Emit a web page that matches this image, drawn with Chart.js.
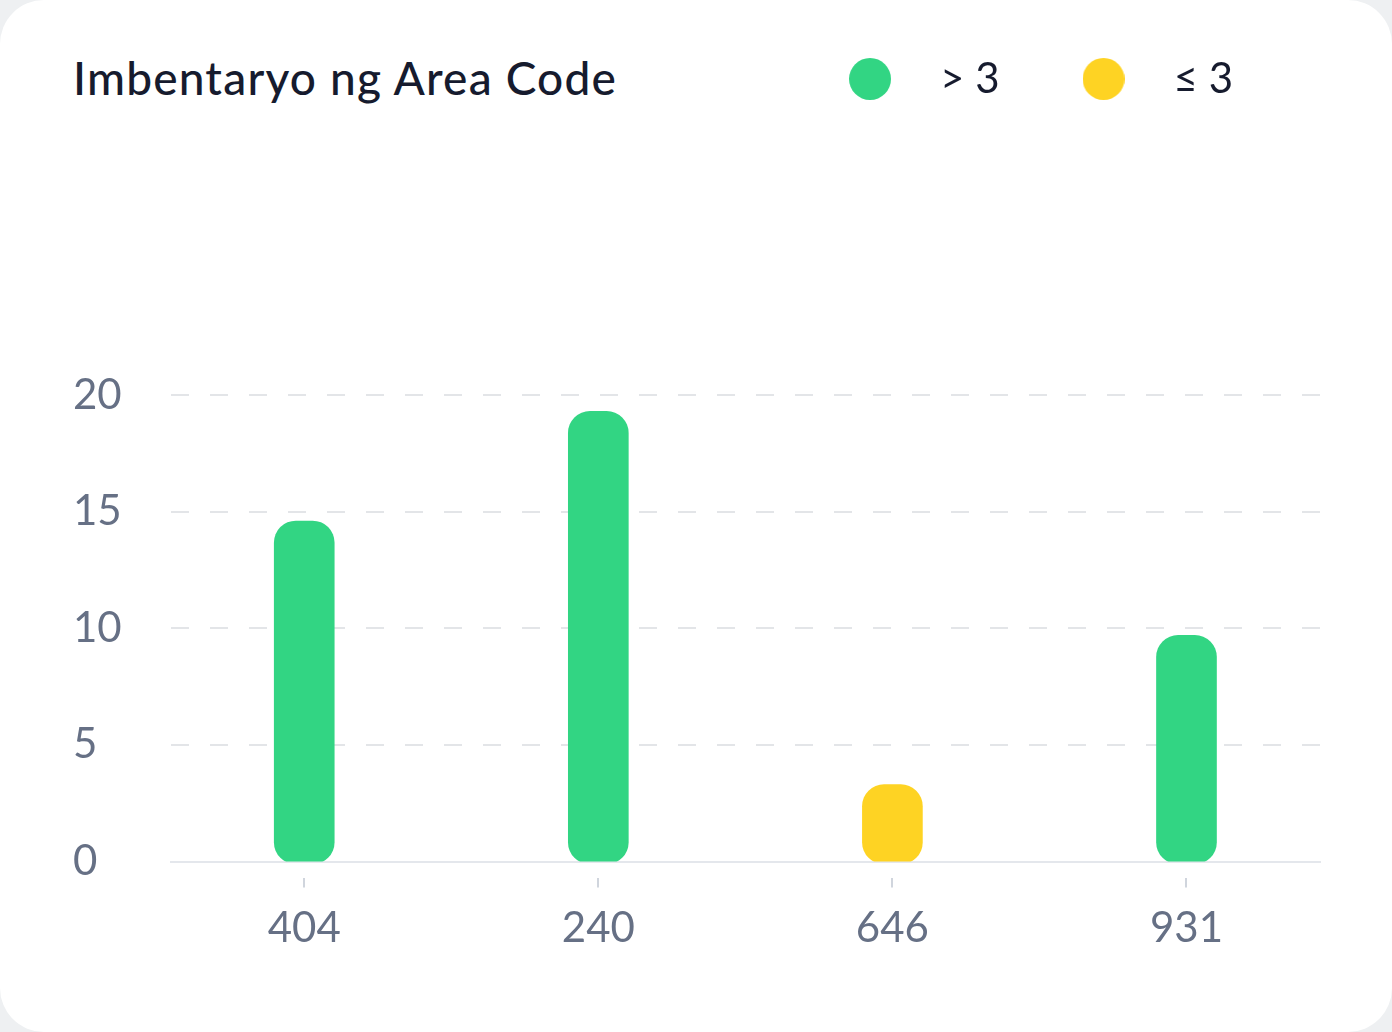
<!DOCTYPE html>
<html>
<head>
<meta charset="utf-8">
<script src="https://cdn.jsdelivr.net/npm/chart.js@4"></script>
<style>
  html, body { margin: 0; padding: 0; }
  body { width: 1392px; height: 1032px; background: #eef0f2; overflow: hidden; font-family: "Lato", sans-serif; }
  .card { position: absolute; left: 0; top: 0; width: 1392px; height: 1032px; background: #fff; border-radius: 44px; }
  .card h1 { position: absolute; left: 73px; top: 50px; margin: 0; font-size: 46px; font-weight: 500; letter-spacing: 1.2px; color: #161b2e; line-height: 56px; }
  .wrap { position: absolute; left: 0; top: 0; width: 1392px; height: 1032px; }
</style>
</head>
<body>
<div class="card">
  <h1>Imbentaryo ng Area Code</h1>
  <div class="wrap"><canvas id="chart"></canvas></div>
</div>
<script>
const areaCodes = ["404", "240", "646", "931"];
const counts = [14.6, 19.3, 3.3, 9.7];
const tiers = ["> 3", "> 3", "\u2264 3", "> 3"];
const tierNames = ["> 3", "\u2264 3"];
const yTicks = [0, 5, 10, 15, 20];

const tierColors = ["#32d583", "#fed323"];
const tickColor = "#667085";

function tierPoints(name) {
  const points = [];
  counts.forEach((value, index) => {
    if (tiers[index] === name) points.push({ x: index, y: value });
  });
  return points;
}

function dot(color) {
  const c = document.createElement("canvas");
  c.width = 42;
  c.height = 42;
  const g = c.getContext("2d");
  g.fillStyle = color;
  g.beginPath();
  g.arc(21, 21, 21, 0, Math.PI * 2);
  g.fill();
  return c;
}

// stretch the legend box so the plot starts lower down,
// and pull its right edge in so the items sit where the card has them
const legendGap = {
  id: "legendGap",
  beforeInit(chart) {
    const originalFit = chart.legend.fit;
    chart.legend.fit = function fit() {
      originalFit.bind(chart.legend)();
      this.height += 285;
    };
  },
  afterLayout(chart) {
    chart.legend.right = 1288;
  }
};

new Chart(document.getElementById("chart"), {
  type: "bar",
  data: {
    datasets: tierNames.map((name, i) => ({
      label: name,
      data: tierPoints(name),
      backgroundColor: tierColors[i],
      borderRadius: 22,
      borderSkipped: false,
      barThickness: 60,
      base: -0.1,
      grouped: false
    }))
  },
  options: {
    responsive: true,
    maintainAspectRatio: false,
    animation: false,
    layout: {
      padding: { left: 73, right: 72, top: 3, bottom: 62 }
    },
    plugins: {
      legend: {
        position: "top",
        align: "end",
        labels: {
          usePointStyle: true,
          boxWidth: 42,
          boxHeight: 30,
          pointStyleWidth: 98,
          padding: 55,
          color: "#161b2e",
          font: { family: "Lato", size: 42 },
          generateLabels: chart =>
            Chart.defaults.plugins.legend.labels.generateLabels(chart).map(item => ({
              ...item,
              pointStyle: dot(item.fillStyle)
            }))
        }
      },
      tooltip: { enabled: false }
    },
    scales: {
      x: {
        type: "linear",
        min: -0.454,
        max: 3.454,
        offset: false,
        afterBuildTicks: scale => {
          scale.ticks = areaCodes.map((code, index) => ({ value: index }));
        },
        ticks: {
          callback: value => areaCodes[value],
          color: tickColor,
          font: { family: "Lato", size: 42 },
          padding: 16
        },
        grid: {
          offset: false,
          drawOnChartArea: false,
          color: "#d0d5dd",
          lineWidth: 2,
          tickLength: 26,
          tickBorderDash: [0, 15, 11, 100]
        },
        border: { color: "#e4e7ec", width: 2 }
      },
      y: {
        min: 0,
        max: 20,
        afterBuildTicks: scale => {
          scale.ticks = yTicks.map(value => ({ value }));
        },
        ticks: {
          color: tickColor,
          crossAlign: "far",
          padding: 24.5,
          font: { family: "Lato", size: 42 }
        },
        grid: {
          color: ctx => (ctx.tick && ctx.tick.value === 0 ? "rgba(0,0,0,0)" : "#e3e5e8"),
          lineWidth: 2,
          drawTicks: false
        },
        border: { display: false, dash: [18, 21] }
      }
    }
  },
  plugins: [legendGap]
});
</script>
</body>
</html>
